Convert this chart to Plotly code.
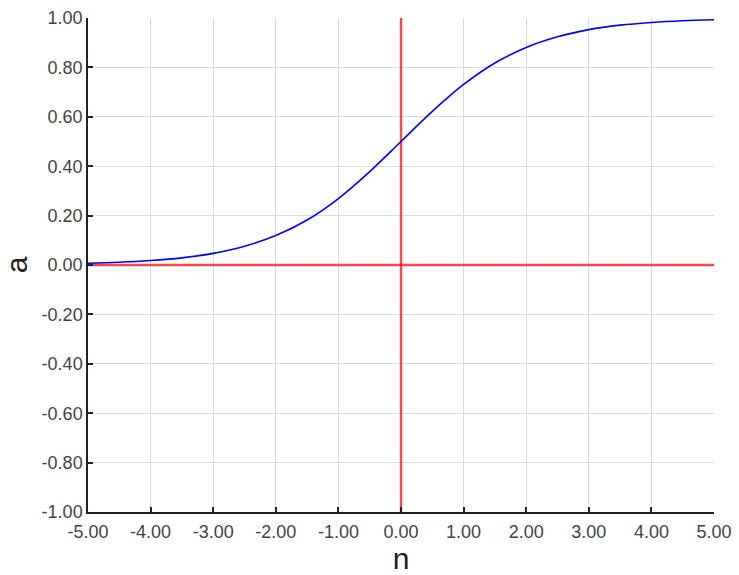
import plotly.graph_objects as go

# values
n_vals = [-5.0, -4.5, -4.0, -3.5, -3.0, -2.5, -2.0, -1.5, -1.0, -0.5, 0.0,
          0.5, 1.0, 1.5, 2.0, 2.5, 3.0, 3.5, 4.0, 4.5, 5.0]
a_vals = [0.007, 0.011, 0.018, 0.029, 0.047, 0.076, 0.119, 0.182, 0.269, 0.378, 0.5,
          0.622, 0.731, 0.818, 0.881, 0.924, 0.953, 0.971, 0.982, 0.989, 0.993]

x_ticks = [-5, -4, -3, -2, -1, 0, 1, 2, 3, 4, 5]
y_ticks = [-1.0, -0.8, -0.6, -0.4, -0.2, 0.0, 0.2, 0.4, 0.6, 0.8, 1.0]
x_labels = ["%.2f" % v for v in x_ticks]
y_labels = ["%.2f" % v for v in y_ticks]

RED = "rgba(255,0,0,0.7)"
FONT = "Arial, Liberation Sans, sans-serif"

fig = go.Figure()
fig.add_trace(go.Scatter(x=[-5, 5], y=[0, 0], mode="lines",
                         line=dict(color=RED, width=2.4), hoverinfo="skip"))
fig.add_trace(go.Scatter(x=[0, 0], y=[-1, 1], mode="lines",
                         line=dict(color=RED, width=2.4), hoverinfo="skip"))
fig.add_trace(go.Scatter(x=n_vals, y=a_vals, mode="lines",
                         line=dict(color="#0000ff", width=1.6, shape="spline")))

axis_common = dict(
    showline=True, linecolor="#222", linewidth=1.5,
    ticks="inside", ticklen=5, tickcolor="#222", tickwidth=1.5,
    showgrid=True, gridcolor="#dcdcdc", gridwidth=1,
    zeroline=False, automargin=False,
    tickfont=dict(family=FONT, size=18, color="#444"),
    mirror=False,
)

fig.update_layout(
    width=739, height=575,
    plot_bgcolor="white", paper_bgcolor="white",
    showlegend=False,
    margin=dict(l=88, r=25, t=18, b=63),
    xaxis=dict(axis_common, range=[-5, 5], tickvals=x_ticks, ticktext=x_labels,
               ticklabelstandoff=3,
               title=dict(text="n", font=dict(family=FONT, size=30, color="#222"),
                          standoff=6)),
    yaxis=dict(axis_common, range=[-1, 1], tickvals=y_ticks, ticktext=y_labels,
               title=dict(text="a", font=dict(family=FONT, size=30, color="#222"),
                          standoff=10)),
)

fig.write_html("out.html", config={"displayModeBar": False},
               post_script="document.body.style.margin='0';")
